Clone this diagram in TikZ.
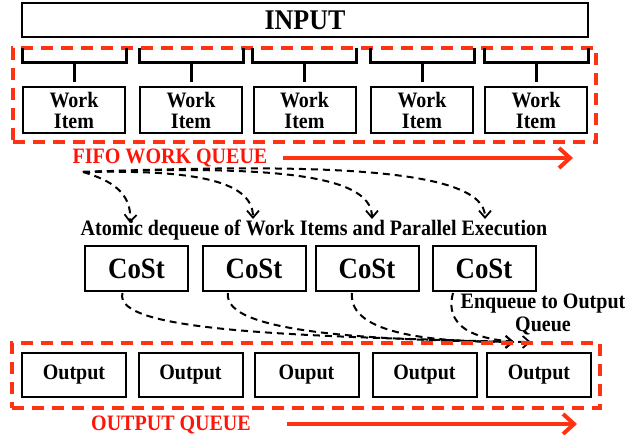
\documentclass[tikz,border=0pt]{standalone}
\usepackage{fontspec}
\setmainfont{Liberation Serif}[FakeStretch=0.91]
\usetikzlibrary{arrows.meta,calc}
\definecolor{qred}{HTML}{FF3312}
\definecolor{tred}{HTML}{FF1408}
\begin{document}
\begin{tikzpicture}[x=1pt,y=-1pt,
  box/.style={draw=black,line width=2pt,fill=white,inner sep=0pt,font=\bfseries\fontsize{22}{21}\selectfont,align=center},
  wbox/.style={box,minimum width=102pt,minimum height=46pt},
  cbox/.style={box,minimum width=103pt,minimum height=45pt,font=\bfseries\fontsize{29.5}{30}\selectfont},
  obox/.style={box,minimum width=104pt,minimum height=44pt},
  qbox/.style={draw=qred,line width=3.5pt,dash pattern=on 12pt off 8pt,inner sep=0pt},
  qlabel/.style={text=tred,font=\bfseries\fontsize{22}{24}\selectfont,inner sep=0pt},
  qarrow/.style={draw=qred,line width=4pt,-{Straight Barb[length=11pt,width=20pt,line width=4pt]}},
  bracket/.style={draw=black,line width=3pt},
  flow/.style={draw=black,line width=2pt,dash pattern=on 7pt off 5pt,-{Straight Barb[length=7pt,width=12pt,line width=1.8pt]}},
  lbl/.style={font=\bfseries\fontsize{22}{23}\selectfont,inner sep=0pt,align=center}]
\useasboundingbox (0,0) rectangle (640,435);

% input
\node[box,minimum width=566pt,minimum height=34pt,font=\bfseries\fontsize{28.5}{30}\selectfont] (input) at (305,20) {INPUT};

% fifo queue box
\node[qbox,minimum width=583pt,minimum height=94pt] (fifo) at (304.5,95) {};

% work items
\foreach \n/\x in {1/74,2/191,3/304.5,4/422,5/536}{
  \node[wbox] (w\n) at (\x,110) {Work\\Item};
  \draw[bracket] ($(w\n.west)+(0,-62)$) |- ($(w\n.east)+(0,-47)$) -- ($(w\n.east)+(0,-62)$);
  \draw[bracket] ($(w\n.center)+(0,-47)$) -- ($(w\n.center)+(0,-28)$);
}

\node[qlabel] (fifolbl) at (170,158) {FIFO WORK QUEUE};
\coordinate (fa) at (283,158);
\coordinate (fb) at (573,158);
\draw[qarrow] (fa) -- (fb);

% dequeue arrows
\coordinate (src) at (83,172);
\coordinate (t1) at (130,223);
\coordinate (t2) at (253,219);
\coordinate (t3) at (372,219);
\coordinate (t4) at (485,219);
\draw[flow] (src) .. controls (110,180) and (132,192) .. (t1);
\draw[flow] (src) .. controls (185,170) and (253,178) .. (t2);
\draw[flow] (src) .. controls (260,166) and (372,172) .. (t3);
\draw[flow] (src) .. controls (320,163) and (485,168) .. (t4);

\node[lbl,anchor=base] (atomic) at (314,236) {Atomic dequeue of Work Items and Parallel Execution};

% CoSt
\foreach \n/\x in {1/136.5,2/254,3/367,4/484}{
  \node[cbox] (c\n) at (\x,268.5) {CoSt};
}

\node[lbl] (enq) at (543,315) {Enqueue to Output\\Queue};

% enqueue arrows
\coordinate (e1) at (514,342);
\coordinate (e2) at (531,342);
\draw[flow] ($(c1.south)+(-14,1)$) .. controls (112,332) and (300,336) .. (e1);
\draw[flow] ($(c2.south)+(-26,1)$) .. controls (222,334) and (380,340) .. (e1);
\draw[flow] ($(c3.south)+(-15,1)$) .. controls (348,336) and (440,342) .. (e1);
\draw[flow] ($(c4.south)+(-31,1)$) .. controls (442,334) and (490,342) .. (e2);

% output queue
\node[qbox,minimum width=588pt,minimum height=65pt] (outq) at (306,375.5) {};
\foreach \n/\x/\t in {1/74/Output,2/190.5/Output,3/306.5/Ouput,4/424.5/Output,5/539/Output}{
  \node[obox] (o\n) at (\x,375) {\t};
}

\node[qlabel] (outlbl) at (171,425) {OUTPUT QUEUE};
\coordinate (oa) at (287,424);
\coordinate (ob) at (577,424);
\draw[qarrow] (oa) -- (ob);
\end{tikzpicture}
\end{document}
